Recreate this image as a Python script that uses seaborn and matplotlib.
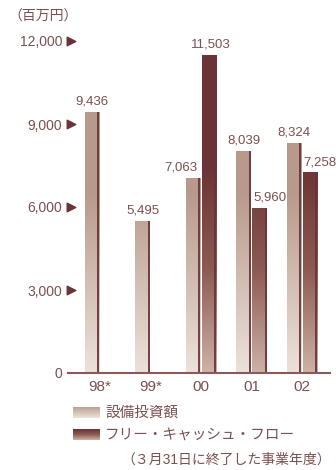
import numpy as np
import pandas as pd
import seaborn as sns
import matplotlib.pyplot as plt
from matplotlib.colors import LinearSegmentedColormap

years = ["98*", "99*", "00", "01", "02"]
capex = [9436, 5495, 7063, 8039, 8324]
fcf = [np.nan, np.nan, 11503, 5960, 7258]
series_names = ["設備投資額", "フリー・キャッシュ・フロー"]
y_ticks = [0, 3000, 6000, 9000, 12000]

TEXT = "#7b4f50"
DARK = "#6b3335"

sns.set_style("white")
plt.rcParams["font.family"] = ["Liberation Sans", "Noto Sans CJK JP", "DejaVu Sans"]

df = pd.DataFrame({
    "year": years * 2,
    "value": capex + fcf,
    "series": [series_names[0]] * len(years) + [series_names[1]] * len(years),
}).dropna()

fig = plt.figure(figsize=(3.36, 4.70), dpi=100)
ax = fig.add_axes([68 / 336, 97 / 470, 262 / 336, 332 / 470])

sns.barplot(data=df, x="year", y="value", hue="series", order=years,
            hue_order=series_names, palette=["#b89a8c", DARK],
            width=0.634, gap=0.12, legend=False, ax=ax)

cmaps = [LinearSegmentedColormap.from_list("c", ["#ece2da", "#b89a8c"]),
         LinearSegmentedColormap.from_list("f", ["#cdb2a6", "#8c5a52", DARK])]
ramp = [6500, 7500]

# gradient fill and dark right edge on every bar
for k, cont in enumerate(ax.containers):
    for p in cont.patches:
        x0, w, h = p.get_x(), p.get_width(), p.get_height()
        yy = np.linspace(0, h, 200)
        grad = np.clip(yy / ramp[k], 0, 1)[:, None]
        im = ax.imshow(grad, cmap=cmaps[k], vmin=0, vmax=1, origin="lower",
                       extent=[x0, x0 + w, 0, h], aspect="auto", zorder=2)
        im.set_clip_path(p)
        ax.plot([x0 + w - 0.012, x0 + w - 0.012], [0, h], color=DARK, lw=1.3,
                zorder=3, solid_capstyle="butt")

# value labels (pixel offsets to keep neighbours apart)
offsets = [[0, 0, -12, 0, 0], [2, 10, 10]]
for k, cont in enumerate(ax.containers):
    for i, p in enumerate(cont.patches):
        val = p.get_height()
        ax.annotate(f"{val:,.0f}", (p.get_x() + p.get_width() / 2, val),
                    xytext=(offsets[k][i] * 0.72, 3), textcoords="offset points",
                    ha="center", va="bottom", fontsize=9.5, color=TEXT,
                    annotation_clip=False, zorder=4)

ax.set_xlim(-0.634, 4.554)
ax.set_ylim(0, 12000)
ax.set_yticks(y_ticks)
ax.set_yticklabels([f"{v:,}" for v in y_ticks])
ax.tick_params(axis="y", length=0, pad=4.3, labelsize=10, labelcolor=TEXT)
ax.tick_params(axis="x", length=0, pad=5, labelsize=11, labelcolor=TEXT)
ax.set_xlabel("")
ax.set_ylabel("")
for s in ["left", "right", "top"]:
    ax.spines[s].set_visible(False)
ax.spines["bottom"].set_color("#8a5a5a")
ax.spines["bottom"].set_linewidth(1.5)
ax.spines["bottom"].set_zorder(5)

# triangle markers next to tick labels
tri = [v for v in y_ticks if v > 0]
ax.scatter([0.012] * len(tri), tri, marker=">", s=38, color=DARK,
           transform=ax.get_yaxis_transform(), clip_on=False, zorder=5)

fig.text(8 / 336, 1 - 17 / 470, "（百万円）", fontsize=10, color=TEXT,
         va="center", ha="left")

# legend swatches with gradients
for k, ypix in enumerate([407, 429]):
    sw = fig.add_axes([73 / 336, 1 - (ypix + 11) / 470, 27 / 336, 11 / 470])
    g = np.linspace(0, 1, 50)[:, None]
    sw.imshow(g, cmap=cmaps[k], origin="lower", aspect="auto", vmin=0, vmax=1)
    sw.axis("off")
    fig.text(105 / 336, 1 - (ypix + 6) / 470, series_names[k], fontsize=10.5,
             color=TEXT, va="center", ha="left")

fig.text(331 / 336, 1 - 460 / 470, "（３月31日に終了した事業年度）", fontsize=10,
         color=TEXT, va="center", ha="right")

fig.savefig("out.png", dpi=100)
